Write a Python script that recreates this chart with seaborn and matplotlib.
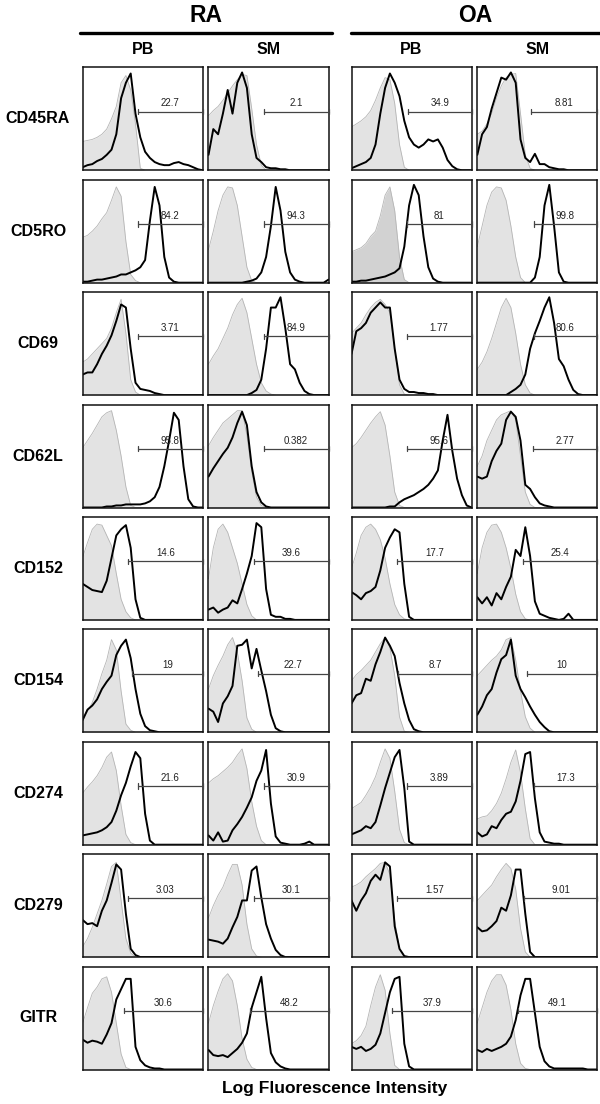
import numpy as np
import pandas as pd
import seaborn as sns
import matplotlib.pyplot as plt

markers = ["CD45RA", "CD5RO", "CD69", "CD62L", "CD152", "CD154", "CD274", "CD279", "GITR"]
groups = ["RA", "OA"]
tissues = ["PB", "SM"]

# position on the log fluorescence axis, shared by all histograms (0 = left edge, 1 = right edge)
log_pos = np.round(np.arange(26) * 0.04, 2)

# isotype (grey filled) histograms, order: RA-PB, RA-SM, OA-PB, OA-SM
iso_cd45ra = [
    [.28, .29, .30, .32, .35, .40, .50, .62, .85, .92, .78, .45, .02, 0, 0, 0, 0, 0, 0, 0, 0, 0, 0, 0, 0, 0],
    [.53, .58, .62, .68, .75, .82, .88, .93, .92, .60, .25, .05, 0, 0, 0, 0, 0, 0, 0, 0, 0, 0, 0, 0, 0, 0],
    [.42, .45, .48, .52, .58, .68, .80, .90, .88, .65, .25, .03, 0, 0, 0, 0, 0, 0, 0, 0, 0, 0, 0, 0, 0, 0],
    [.35, .38, .45, .55, .70, .82, .90, .93, .94, .55, .15, .02, 0, 0, 0, 0, 0, 0, 0, 0, 0, 0, 0, 0, 0, 0],
]
iso_cd5ro = [
    [.44, .46, .50, .55, .62, .68, .80, .93, .84, .40, .08, .02, 0, 0, 0, 0, 0, 0, 0, 0, 0, 0, 0, 0, 0, 0],
    [.32, .50, .70, .85, .93, .92, .75, .45, .15, .02, 0, 0, 0, 0, 0, 0, 0, 0, 0, 0, 0, 0, 0, 0, 0, 0],
    [.30, .32, .34, .38, .45, .50, .65, .85, .93, .70, .25, .03, 0, 0, 0, 0, 0, 0, 0, 0, 0, 0, 0, 0, 0, 0],
    [.35, .55, .75, .88, .93, .92, .80, .55, .25, .05, 0, 0, 0, 0, 0, 0, 0, 0, 0, 0, 0, 0, 0, 0, 0, 0],
]
iso_cd69 = [
    [.32, .35, .40, .45, .50, .55, .65, .80, .93, .60, .15, .03, 0, 0, 0, 0, 0, 0, 0, 0, 0, 0, 0, 0, 0, 0],
    [.30, .38, .45, .55, .65, .78, .88, .94, .80, .55, .30, .12, .04, .01, 0, 0, 0, 0, 0, 0, 0, 0, 0, 0, 0, 0],
    [.60, .65, .70, .78, .85, .90, .93, .88, .80, .45, .10, .01, 0, 0, 0, 0, 0, 0, 0, 0, 0, 0, 0, 0, 0, 0],
    [.25, .32, .42, .55, .70, .85, .94, .85, .60, .30, .10, .02, 0, 0, 0, 0, 0, 0, 0, 0, 0, 0, 0, 0, 0, 0],
]
iso_cd62l = [
    [.58, .65, .72, .80, .88, .92, .94, .75, .50, .20, .02, 0, 0, 0, 0, 0, 0, 0, 0, 0, 0, 0, 0, 0, 0, 0],
    [.60, .68, .75, .82, .86, .90, .94, .94, .70, .35, .10, .02, 0, 0, 0, 0, 0, 0, 0, 0, 0, 0, 0, 0, 0, 0],
    [.58, .62, .68, .75, .82, .88, .93, .80, .50, .15, .02, 0, 0, 0, 0, 0, 0, 0, 0, 0, 0, 0, 0, 0, 0, 0],
    [.40, .50, .65, .75, .85, .90, .92, .94, .85, .50, .15, .03, 0, 0, 0, 0, 0, 0, 0, 0, 0, 0, 0, 0, 0, 0],
]
iso_cd152 = [
    [.61, .75, .88, .93, .92, .82, .72, .45, .20, .08, .02, 0, 0, 0, 0, 0, 0, 0, 0, 0, 0, 0, 0, 0, 0, 0],
    [.40, .70, .88, .93, .85, .70, .55, .35, .15, .04, 0, 0, 0, 0, 0, 0, 0, 0, 0, 0, 0, 0, 0, 0, 0, 0],
    [.50, .65, .82, .90, .93, .88, .78, .60, .35, .15, .05, .01, 0, 0, 0, 0, 0, 0, 0, 0, 0, 0, 0, 0, 0, 0],
    [.45, .70, .85, .92, .93, .85, .70, .50, .25, .08, .01, 0, 0, 0, 0, 0, 0, 0, 0, 0, 0, 0, 0, 0, 0, 0],
]
iso_cd154 = [
    [.13, .20, .29, .42, .57, .70, .90, .80, .40, .08, .02, 0, 0, 0, 0, 0, 0, 0, 0, 0, 0, 0, 0, 0, 0, 0],
    [.42, .55, .65, .74, .85, .92, .78, .50, .14, .03, 0, 0, 0, 0, 0, 0, 0, 0, 0, 0, 0, 0, 0, 0, 0, 0],
    [.50, .56, .60, .65, .70, .78, .86, .92, .82, .55, .15, .01, 0, 0, 0, 0, 0, 0, 0, 0, 0, 0, 0, 0, 0, 0],
    [.55, .60, .65, .70, .74, .80, .90, .92, .70, .40, .15, .04, 0, 0, 0, 0, 0, 0, 0, 0, 0, 0, 0, 0, 0, 0],
]
iso_cd274 = [
    [.50, .56, .61, .67, .75, .85, .90, .72, .38, .10, .02, 0, 0, 0, 0, 0, 0, 0, 0, 0, 0, 0, 0, 0, 0, 0],
    [.60, .64, .67, .71, .75, .80, .87, .93, .74, .42, .18, .04, 0, 0, 0, 0, 0, 0, 0, 0, 0, 0, 0, 0, 0, 0],
    [.35, .38, .41, .48, .56, .66, .80, .93, .84, .52, .15, .02, 0, 0, 0, 0, 0, 0, 0, 0, 0, 0, 0, 0, 0, 0],
    [.25, .27, .28, .33, .40, .50, .64, .80, .92, .70, .35, .06, 0, 0, 0, 0, 0, 0, 0, 0, 0, 0, 0, 0, 0, 0],
]
iso_cd279 = [
    [.10, .18, .29, .42, .55, .71, .88, .92, .55, .18, .04, 0, 0, 0, 0, 0, 0, 0, 0, 0, 0, 0, 0, 0, 0, 0],
    [.38, .50, .60, .68, .80, .90, .90, .70, .32, .08, .01, 0, 0, 0, 0, 0, 0, 0, 0, 0, 0, 0, 0, 0, 0, 0],
    [.68, .70, .73, .78, .82, .86, .91, .92, .80, .35, .08, .01, 0, 0, 0, 0, 0, 0, 0, 0, 0, 0, 0, 0, 0, 0],
    [.55, .60, .65, .70, .78, .85, .91, .86, .66, .28, .05, 0, 0, 0, 0, 0, 0, 0, 0, 0, 0, 0, 0, 0, 0, 0],
]
iso_gitr = [
    [.45, .60, .74, .80, .88, .90, .75, .45, .15, .02, 0, 0, 0, 0, 0, 0, 0, 0, 0, 0, 0, 0, 0, 0, 0, 0],
    [.45, .62, .76, .88, .93, .86, .62, .30, .10, .02, 0, 0, 0, 0, 0, 0, 0, 0, 0, 0, 0, 0, 0, 0, 0, 0],
    [.25, .28, .33, .42, .62, .80, .92, .77, .35, .04, 0, 0, 0, 0, 0, 0, 0, 0, 0, 0, 0, 0, 0, 0, 0, 0],
    [.45, .60, .75, .86, .92, .92, .82, .58, .25, .06, .01, 0, 0, 0, 0, 0, 0, 0, 0, 0, 0, 0, 0, 0, 0, 0],
]

# stained (black line) histograms, same order
stain_cd45ra = [
    [.03, .05, .06, .09, .11, .15, .20, .35, .70, .85, .94, .55, .32, .18, .12, .08, .06, .05, .05, .07, .08, .06, .05, .03, .01, 0],
    [.15, .40, .35, .55, .78, .55, .85, .95, .80, .35, .12, .08, .03, .02, .02, .01, .01, 0, 0, 0, 0, 0, 0, 0, 0, 0],
    [.02, .04, .06, .08, .12, .25, .55, .80, .94, .85, .72, .48, .32, .25, .22, .25, .30, .28, .30, .22, .10, .04, .01, 0, 0, 0],
    [.15, .35, .42, .60, .75, .90, .88, .95, .85, .30, .12, .08, .16, .06, .06, .03, .02, .01, .01, 0, 0, 0, 0, 0, 0, 0],
]
stain_cd5ro = [
    [.01, .01, .02, .03, .03, .04, .05, .06, .08, .08, .10, .12, .15, .22, .60, .93, .75, .25, .05, .01, 0, 0, 0, 0, 0, 0],
    [0, 0, 0, 0, 0, 0, 0, 0, .01, .02, .04, .10, .25, .55, .93, .70, .30, .10, .03, .01, 0, 0, 0, 0, 0, .03],
    [.01, .01, .02, .02, .03, .04, .05, .06, .08, .10, .14, .35, .75, .95, .85, .45, .15, .04, .01, 0, 0, 0, 0, 0, 0, 0],
    [0, 0, 0, 0, 0, 0, 0, 0, 0, 0, 0, 0, .05, .25, .75, .95, .55, .10, .01, 0, 0, 0, 0, 0, 0, 0],
]
stain_cd69 = [
    [.20, .22, .22, .30, .40, .48, .58, .72, .88, .85, .45, .12, .06, .05, .04, .02, .01, 0, 0, 0, 0, 0, 0, 0, 0, 0],
    [0, 0, 0, 0, 0, 0, 0, 0, 0, .02, .05, .15, .45, .85, .85, .95, .65, .30, .25, .12, .04, .01, 0, 0, 0, 0],
    [.40, .62, .65, .70, .80, .85, .90, .85, .85, .45, .15, .06, .03, .03, .02, .02, .01, .01, 0, 0, 0, 0, 0, 0, 0, 0],
    [0, 0, 0, 0, 0, 0, 0, .03, .06, .10, .20, .45, .60, .72, .85, .95, .70, .35, .28, .15, .05, .01, 0, 0, 0, 0],
]
stain_cd62l = [
    [0, 0, 0, 0, 0, .01, .01, .02, .02, .03, .03, .03, .03, .04, .06, .10, .20, .40, .65, .92, .85, .40, .08, .01, 0, 0],
    [.30, .38, .45, .52, .58, .68, .82, .93, .80, .40, .15, .05, .01, 0, 0, 0, 0, 0, 0, 0, 0, 0, 0, 0, 0, 0],
    [0, 0, 0, 0, 0, 0, 0, 0, .01, .01, .05, .08, .10, .12, .15, .18, .22, .28, .36, .65, .90, .55, .28, .12, .02, 0],
    [.30, .28, .30, .45, .55, .62, .85, .93, .88, .65, .22, .18, .10, .04, .02, .01, 0, 0, 0, 0, 0, 0, 0, 0, 0, 0],
]
stain_cd152 = [
    [.35, .32, .29, .28, .27, .38, .60, .82, .88, .92, .70, .20, .02, 0, 0, 0, 0, 0, 0, 0, 0, 0, 0, 0, 0, 0],
    [.10, .12, .07, .10, .12, .19, .16, .30, .45, .62, .94, .90, .30, .05, .03, .03, .01, .01, 0, 0, 0, 0, 0, 0, 0, 0],
    [.27, .24, .20, .26, .28, .32, .48, .70, .80, .88, .85, .35, .03, 0, 0, 0, 0, 0, 0, 0, 0, 0, 0, 0, 0, 0],
    [.22, .16, .22, .14, .26, .20, .32, .42, .68, .62, .90, .62, .18, .06, .04, .02, .01, 0, .01, .06, 0, 0, 0, 0, 0, 0],
]
stain_cd154 = [
    [.12, .22, .26, .32, .42, .49, .55, .75, .84, .90, .72, .42, .18, .06, .02, .01, 0, 0, 0, 0, 0, 0, 0, 0, 0, 0],
    [.23, .20, .10, .28, .35, .45, .84, .85, .90, .62, .81, .60, .40, .17, .04, .01, 0, 0, 0, 0, 0, 0, 0, 0, 0, 0],
    [.28, .36, .38, .52, .50, .66, .78, .92, .84, .74, .48, .28, .12, .03, .01, 0, 0, 0, 0, 0, 0, 0, 0, 0, 0, 0],
    [.17, .25, .36, .42, .58, .71, .75, .90, .55, .42, .34, .25, .17, .10, .05, .01, 0, 0, 0, 0, 0, 0, 0, 0, 0, 0],
]
stain_cd274 = [
    [.09, .10, .11, .12, .14, .17, .22, .33, .48, .60, .76, .90, .84, .30, .04, 0, 0, 0, 0, 0, 0, 0, 0, 0, 0, 0],
    [.09, .04, .12, .03, .04, .14, .20, .27, .36, .46, .62, .72, .92, .40, .08, .02, .01, 0, 0, 0, .01, .03, 0, 0, 0, 0],
    [.10, .12, .14, .18, .16, .22, .38, .55, .70, .85, .92, .55, .03, 0, 0, 0, 0, 0, 0, 0, 0, 0, 0, 0, 0, 0],
    [.12, .08, .10, .18, .16, .24, .30, .32, .42, .62, .88, .90, .45, .12, .03, .02, .01, .01, 0, 0, 0, 0, 0, 0, 0, 0],
]
stain_cd279 = [
    [.36, .32, .33, .30, .45, .55, .72, .90, .85, .42, .08, .02, 0, 0, 0, 0, 0, 0, 0, 0, 0, 0, 0, 0, 0, 0],
    [.17, .16, .15, .13, .18, .29, .39, .55, .55, .84, .88, .58, .32, .18, .07, .02, 0, 0, 0, 0, 0, 0, 0, 0, 0, 0],
    [.55, .45, .55, .62, .74, .80, .75, .92, .88, .30, .08, .01, 0, 0, 0, 0, 0, 0, 0, 0, 0, 0, 0, 0, 0, 0],
    [.29, .25, .26, .30, .35, .48, .45, .60, .85, .85, .42, .05, 0, 0, 0, 0, 0, 0, 0, 0, 0, 0, 0, 0, 0, 0],
]
stain_gitr = [
    [.29, .26, .28, .27, .25, .34, .45, .68, .78, .88, .88, .22, .09, .04, .02, .01, .01, 0, 0, 0, 0, 0, 0, 0, 0, 0],
    [.19, .14, .13, .14, .12, .16, .20, .26, .35, .60, .75, .90, .50, .16, .07, .03, .01, 0, 0, 0, 0, 0, 0, 0, 0, 0],
    [.22, .20, .22, .18, .20, .24, .35, .55, .75, .88, .90, .25, .03, 0, 0, 0, 0, 0, 0, 0, 0, 0, 0, 0, 0, 0],
    [.19, .17, .20, .18, .20, .22, .25, .32, .48, .72, .88, .88, .55, .22, .08, .03, .01, .01, .01, .01, .01, .01, .01, 0, 0, 0],
]

# gate start (fraction of log axis) and % positive per panel
gate_start = [
    [.46, .46, .47, .45],
    [.46, .46, .46, .47],
    [.46, .46, .46, .47],
    [.46, .46, .46, .46],
    [.38, .38, .38, .38],
    [.41, .41, .39, .41],
    [.46, .46, .46, .47],
    [.38, .38, .38, .39],
    [.34, .35, .34, .34],
]
gate_pct = [
    ["22.7", "2.1", "34.9", "8.81"],
    ["84.2", "94.3", "81", "99.8"],
    ["3.71", "84.9", "1.77", "80.6"],
    ["95.8", "0.382", "95.6", "2.77"],
    ["14.6", "39.6", "17.7", "25.4"],
    ["19", "22.7", "8.7", "10"],
    ["21.6", "30.9", "3.89", "17.3"],
    ["3.03", "30.1", "1.57", "9.01"],
    ["30.6", "48.2", "37.9", "49.1"],
]

iso_all = [iso_cd45ra, iso_cd5ro, iso_cd69, iso_cd62l, iso_cd152, iso_cd154, iso_cd274, iso_cd279, iso_gitr]
stain_all = [stain_cd45ra, stain_cd5ro, stain_cd69, stain_cd62l, stain_cd152, stain_cd154, stain_cd274, stain_cd279, stain_gitr]

sns.set_style("white")
plt.rcParams["font.family"] = ["Liberation Sans", "DejaVu Sans"]
plt.rcParams["text.color"] = "black"

W, H = 600, 1104
fig = plt.figure(figsize=(W / 100, H / 100), dpi=100)

col_left = [82.7, 208.5, 351.5, 477.3]
panel_w, panel_h = 120, 103
row_top0, row_step = 67.3, 112.4


def fx(px):
    return px / W


def fy(py):
    return 1 - py / H


for i, marker in enumerate(markers):
    top = row_top0 + i * row_step
    fig.text(fx(38), fy(top + panel_h / 2), marker, ha="center", va="center",
             fontsize=11.5, fontweight="bold")
    for j in range(4):
        ax = fig.add_axes([fx(col_left[j]), fy(top + panel_h), panel_w / W, panel_h / H])
        df = pd.DataFrame({"pos": log_pos, "iso": iso_all[i][j], "stain": stain_all[i][j]})
        fill = "#d2d2d2" if (marker == "CD5RO" and j == 2) else "#e3e3e3"
        ax.fill_between(df["pos"], df["iso"], color=fill, lw=0)
        sns.lineplot(data=df, x="pos", y="iso", ax=ax, color="#b5b5b5", lw=0.6, estimator=None)
        sns.lineplot(data=df, x="pos", y="stain", ax=ax, color="black", lw=1.4, estimator=None)
        # gate marker
        g0 = gate_start[i][j]
        gy = 0.57
        ax.plot([g0, 1], [gy, gy], color="#444444", lw=0.9, clip_on=False, zorder=5)
        ax.plot([g0, g0], [gy - 0.025, gy + 0.025], color="#444444", lw=0.9, zorder=5)
        ax.plot([1, 1], [gy - 0.025, gy + 0.025], color="#444444", lw=0.9, clip_on=False, zorder=5)
        ax.text((g0 + 1) / 2, gy + 0.03, gate_pct[i][j], ha="center", va="bottom",
                fontsize=7, color="#222222", zorder=6)
        ax.set_xlim(0, 1)
        ax.set_ylim(0, 1)
        ax.set_xticks([])
        ax.set_yticks([])
        ax.set_xlabel("")
        ax.set_ylabel("")
        for sp in ax.spines.values():
            sp.set_color("#111111")
            sp.set_linewidth(1.1)

# group headers
for g, (x0, x1) in zip(groups, [(80, 332), (351, 600)]):
    fig.add_artist(plt.Line2D([fx(x0), fx(x1)], [fy(33), fy(33)], color="black", lw=2.4))
    fig.text(fx((x0 + x1) / 2), fy(15), g, ha="center", va="center", fontsize=16.5, fontweight="bold")

for j in range(4):
    fig.text(fx(col_left[j] + panel_w / 2), fy(49), tissues[j % 2], ha="center", va="center",
             fontsize=11.5, fontweight="bold")

fig.text(fx(335), fy(1089), "Log Fluorescence Intensity", ha="center", va="center",
         fontsize=12.5, fontweight="bold")

fig.savefig("out.png", dpi=100)
